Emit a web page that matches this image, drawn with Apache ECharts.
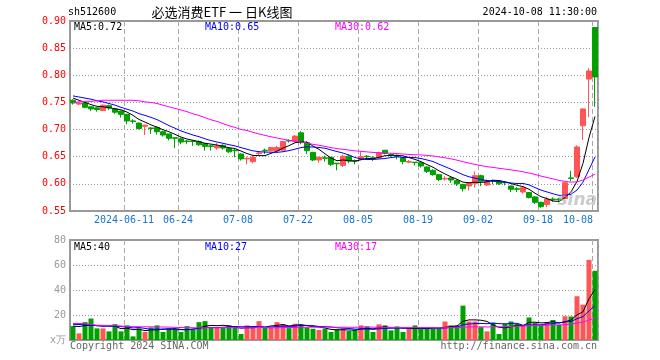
<!DOCTYPE html>
<html><head><meta charset="utf-8">
<script src="https://cdn.jsdelivr.net/npm/echarts@6/dist/echarts.min.js"></script>
<style>html,body{margin:0;padding:0;background:#fff}#c{width:660px;height:360px}</style>
</head><body><div id="c"></div>
<script>
// ---------- data ----------
const dates = [
'2024-05-28','2024-05-29','2024-05-30','2024-05-31',
'2024-06-03','2024-06-04','2024-06-05','2024-06-06','2024-06-07','2024-06-11','2024-06-12','2024-06-13','2024-06-14',
'2024-06-17','2024-06-18','2024-06-19','2024-06-20','2024-06-21','2024-06-24','2024-06-25','2024-06-26','2024-06-27','2024-06-28',
'2024-07-01','2024-07-02','2024-07-03','2024-07-04','2024-07-05','2024-07-08','2024-07-09','2024-07-10','2024-07-11','2024-07-12',
'2024-07-15','2024-07-16','2024-07-17','2024-07-18','2024-07-19','2024-07-22','2024-07-23','2024-07-24','2024-07-25','2024-07-26',
'2024-07-29','2024-07-30','2024-07-31','2024-08-01','2024-08-02','2024-08-05','2024-08-06','2024-08-07','2024-08-08','2024-08-09',
'2024-08-12','2024-08-13','2024-08-14','2024-08-15','2024-08-16','2024-08-19','2024-08-20','2024-08-21','2024-08-22','2024-08-23',
'2024-08-26','2024-08-27','2024-08-28','2024-08-29','2024-08-30','2024-09-02','2024-09-03','2024-09-04','2024-09-05','2024-09-06',
'2024-09-09','2024-09-10','2024-09-11','2024-09-12','2024-09-13','2024-09-18','2024-09-19','2024-09-20',
'2024-09-23','2024-09-24','2024-09-25','2024-09-26','2024-09-27','2024-09-30','2024-10-08'];

const opens = [0.754,0.747,0.749,0.742,0.740,0.735,0.744,0.738,0.734,0.728,
0.716,0.712,0.706,0.703,0.704,0.696,0.692,0.685,0.683,0.679,
0.679,0.678,0.674,0.670,0.666,0.671,0.665,0.662,0.655,0.646,
0.641,0.656,0.662,0.661,0.661,0.662,0.680,0.678,0.694,0.676,
0.658,0.644,0.648,0.649,0.638,0.634,0.651,0.643,0.645,0.651,
0.648,0.648,0.662,0.654,0.652,0.648,0.640,0.640,0.639,0.631,
0.625,0.617,0.609,0.611,0.606,0.599,0.596,0.601,0.615,0.598,
0.606,0.605,0.603,0.596,0.591,0.585,0.584,0.576,0.566,0.562,
0.572,0.572,0.573,0.611,0.613,0.707,0.793,0.888];
const closes = [0.749,0.749,0.741,0.738,0.737,0.745,0.740,0.732,0.728,0.716,
0.715,0.702,0.708,0.702,0.696,0.690,0.684,0.684,0.677,0.678,
0.678,0.672,0.669,0.669,0.670,0.666,0.659,0.661,0.646,0.647,
0.649,0.657,0.661,0.667,0.667,0.678,0.679,0.688,0.676,0.661,
0.644,0.649,0.647,0.636,0.637,0.651,0.642,0.642,0.650,0.650,
0.646,0.657,0.656,0.653,0.651,0.641,0.641,0.639,0.633,0.623,
0.617,0.608,0.610,0.607,0.600,0.591,0.602,0.615,0.605,0.606,
0.605,0.600,0.602,0.590,0.590,0.593,0.575,0.566,0.558,0.572,
0.571,0.571,0.602,0.610,0.668,0.738,0.808,0.797];
const lows = [0.746,0.745,0.739,0.734,0.733,0.734,0.736,0.729,0.722,0.710,
0.711,0.700,0.690,0.692,0.691,0.687,0.680,0.666,0.673,0.673,
0.670,0.670,0.661,0.661,0.663,0.663,0.657,0.649,0.643,0.636,
0.638,0.652,0.655,0.660,0.660,0.661,0.676,0.676,0.673,0.655,
0.642,0.639,0.641,0.633,0.625,0.631,0.638,0.636,0.644,0.644,
0.642,0.646,0.654,0.650,0.645,0.636,0.638,0.634,0.630,0.620,
0.615,0.605,0.606,0.602,0.596,0.586,0.588,0.593,0.596,0.596,
0.599,0.598,0.597,0.585,0.585,0.582,0.573,0.563,0.556,0.557,
0.567,0.568,0.572,0.605,0.611,0.681,0.723,0.742];
const highs = [0.756,0.750,0.750,0.742,0.741,0.746,0.746,0.740,0.735,0.729,
0.719,0.713,0.709,0.704,0.705,0.698,0.692,0.685,0.685,0.681,
0.680,0.680,0.674,0.672,0.675,0.673,0.668,0.664,0.656,0.650,
0.652,0.660,0.665,0.668,0.670,0.679,0.682,0.690,0.697,0.679,
0.659,0.650,0.652,0.649,0.638,0.654,0.654,0.645,0.660,0.653,
0.651,0.659,0.662,0.656,0.654,0.649,0.644,0.640,0.640,0.632,
0.627,0.617,0.614,0.613,0.608,0.600,0.603,0.623,0.617,0.608,
0.608,0.606,0.605,0.597,0.594,0.596,0.585,0.577,0.567,0.576,
0.575,0.574,0.603,0.624,0.671,0.739,0.813,0.889];
const volumes = [11.1,5.3,14.3,17.2,9.3,9.3,6.9,12.7,6.9,11.7,
2.9,9.3,6.4,10.1,11.7,6.4,9.3,8.2,6.4,11.1,
8.2,14.3,15.1,9.8,9.8,9.8,11.7,11.1,4.8,11.7,
9.8,15.1,9.8,9.8,14.3,12.7,9.5,13.0,12.0,10.0,
9.0,8.0,9.0,6.4,8.5,9.0,7.2,8.2,11.7,10.9,
6.4,12.5,11.7,7.7,10.9,6.4,9.0,11.7,9.0,9.0,
9.0,9.0,14.8,11.7,11.7,27.5,14.8,14.8,10.3,6.9,
13.8,4.8,13.0,14.8,13.0,11.7,18.0,13.8,12.0,14.0,
16.0,12.0,19.0,18.8,35.0,28.3,64.1,55.4];

// moving-average values at the left edge (their windows start before the visible data)
const ma5Head = [0.758,0.754,0.750,0.746];
const ma10Head = [0.762,0.760,0.758,0.756,0.753,0.751,0.748,0.745,0.741];
const ma30Head = [0.750,0.751,0.752,0.752,0.753,0.754,0.754,0.754,0.754,0.754,
0.754,0.753,0.751,0.750,0.748,0.745,0.742,0.739,0.736,0.733,
0.729,0.726,0.722,0.718,0.715,0.711,0.707,0.704,0.700];
const vma5Head = [11.1,10.8,11.5,12.0];
const vma10Head = [12.5,12.4,12.2,11.8,11.5,11.2,11.0,10.9,10.7];
const vma30Head = [13.2,13.2,13.1,12.5,11.8,11.7,11.6,11.5,11.2,10.8,
10.7,10.6,10.6,10.5,10.5,10.4,10.3,10.1,10.0,9.9,
9.8,9.8,9.8,9.8,9.8,9.8,9.9,9.9,9.7];

const axisDates = ['2024-06-11','2024-06-24','2024-07-08','2024-07-22','2024-08-05','2024-08-19','2024-09-02','2024-09-18','2024-10-08'];
const axisTexts = ['2024-06-11','06-24','07-08','07-22','08-05','08-19','09-02','09-18','10-08'];
const headerTexts = ['sh512600','必选消费ETF 一 日K线图','2024-10-08 11:30:00'];
const maLegend = ['MA5:0.72','MA10:0.65','MA30:0.62'];
const volLegend = ['MA5:40','MA10:27','MA30:17'];
const footerTexts = ['Copyright 2024 SINA.COM','http://finance.sina.com.cn'];

// ---------- build ----------
const RED = '#ff5555', GREEN = '#00a000';
const MONO = '"DejaVu Sans Mono", "Liberation Mono", monospace';
function movAvg(arr, n, head, dp) {
  return arr.map((_, i) => {
    if (i < n - 1) return head[i];
    let s = 0; for (let k = i - n + 1; k <= i; k++) s += arr[k];
    return +(s / n).toFixed(dp);
  });
}
const ma5 = movAvg(closes, 5, ma5Head, 4);
const ma10 = movAvg(closes, 10, ma10Head, 4);
const ma30 = movAvg(closes, 30, ma30Head, 4);
const vma5 = movAvg(volumes, 5, vma5Head, 2);
const vma10 = movAvg(volumes, 10, vma10Head, 2);
const vma30 = movAvg(volumes, 30, vma30Head, 2);
function isUp(i) {
  if (closes[i] !== opens[i]) return closes[i] > opens[i];
  return i > 0 ? closes[i] >= closes[i - 1] : true;
}
const candleData = opens.map((o, i) => [o, closes[i], lows[i], highs[i]]);
const volData = volumes.map((v, i) => ({ value: v, itemStyle: { color: isUp(i) ? RED : GREEN } }));
const labelIdx = axisDates.map(d => dates.indexOf(d));

const dashed = { color: '#aaa', width: 1, type: [5, 3] };
const dotted = { color: '#999', width: 1, type: [1, 2] };
const splitInterval = (index) => labelIdx.indexOf(index) >= 0;

function txt(text, x, y, color, font, align) {
  return { type: 'text', x: x, y: y, silent: true, z: 100,
    style: { text: text, fill: color, font: font, align: align || 'left', verticalAlign: 'middle',
             textAlign: align || 'left', textVerticalAlign: 'middle' } };
}

const option = {
  animation: false,
  backgroundColor: '#fff',
  grid: [
    { left: 70, right: 62, top: 21, height: 190, show: true, borderColor: '#999', borderWidth: 2, backgroundColor: 'transparent' },
    { left: 70, right: 62, top: 240, height: 100, show: true, borderColor: '#999', borderWidth: 2, backgroundColor: 'transparent' }
  ],
  xAxis: [
    { type: 'category', gridIndex: 0, data: dates, boundaryGap: true,
      axisLine: { show: false }, axisTick: { show: false },
      axisLabel: { show: true, interval: (i) => labelIdx.indexOf(i) >= 0, margin: 4,
        color: '#1874cd', fontFamily: MONO, fontSize: 10,
        formatter: function (value, index) {
          const k = labelIdx.indexOf(index);
          if (k < 0) return '';
          return (k === labelIdx.length - 1 ? '{b|' : '{a|') + axisTexts[k] + '}';
        },
        rich: { a: { padding: [0, 6, 0, 0], color: '#1874cd', fontFamily: MONO, fontSize: 10 },
                b: { padding: [0, 34, 0, 0], color: '#1874cd', fontFamily: MONO, fontSize: 10 } } },
      splitLine: { show: true, interval: splitInterval, lineStyle: dashed } },
    { type: 'category', gridIndex: 1, data: dates, boundaryGap: true,
      axisLine: { show: false }, axisTick: { show: false }, axisLabel: { show: false },
      splitLine: { show: true, interval: splitInterval, lineStyle: dashed } }
  ],
  yAxis: [
    { type: 'value', gridIndex: 0, min: 0.55, max: 0.90, interval: 0.05, scale: true,
      axisLine: { show: false }, axisTick: { show: false },
      axisLabel: { color: '#ff0000', fontFamily: MONO, fontSize: 10, margin: 4, formatter: v => v.toFixed(2) },
      splitLine: { show: true, lineStyle: dotted } },
    { type: 'value', gridIndex: 1, min: 0, max: 80, interval: 20,
      axisLine: { show: false }, axisTick: { show: false },
      axisLabel: { color: '#999', fontFamily: MONO, fontSize: 10, margin: 4,
        formatter: v => v === 0 ? 'x万' : String(v) },
      splitLine: { show: true, lineStyle: dotted } }
  ],
  series: [
    { type: 'candlestick', xAxisIndex: 0, yAxisIndex: 0, data: candleData, barWidth: 5,
      itemStyle: { color: RED, color0: GREEN, borderColor: RED, borderColor0: GREEN, borderWidth: 1 } },
    { type: 'line', xAxisIndex: 0, yAxisIndex: 0, data: ma5, symbol: 'none', lineStyle: { color: '#000', width: 1 } },
    { type: 'line', xAxisIndex: 0, yAxisIndex: 0, data: ma10, symbol: 'none', lineStyle: { color: '#0000ff', width: 1 } },
    { type: 'line', xAxisIndex: 0, yAxisIndex: 0, data: ma30, symbol: 'none', lineStyle: { color: '#ff00ff', width: 1 } },
    { type: 'bar', xAxisIndex: 1, yAxisIndex: 1, data: volData, barWidth: 5 },
    { type: 'line', xAxisIndex: 1, yAxisIndex: 1, data: vma5, symbol: 'none', lineStyle: { color: '#000', width: 1 } },
    { type: 'line', xAxisIndex: 1, yAxisIndex: 1, data: vma10, symbol: 'none', lineStyle: { color: '#0000ff', width: 1 } },
    { type: 'line', xAxisIndex: 1, yAxisIndex: 1, data: vma30, symbol: 'none', lineStyle: { color: '#ff00ff', width: 1 } }
  ],
  graphic: [
    txt(headerTexts[0], 68, 12, '#000', '10px ' + MONO),
    txt(headerTexts[1], 222, 12, '#000', '13px "Noto Sans CJK SC", sans-serif', 'center'),
    txt(headerTexts[2], 597, 12, '#000', '10px ' + MONO, 'right'),
    txt(maLegend[0], 74, 27, '#000', '10px ' + MONO),
    txt(maLegend[1], 205, 27, '#0000ff', '10px ' + MONO),
    txt(maLegend[2], 335, 27, '#ff00ff', '10px ' + MONO),
    txt(volLegend[0], 74, 247, '#000', '10px ' + MONO),
    txt(volLegend[1], 205, 247, '#0000ff', '10px ' + MONO),
    txt(volLegend[2], 335, 247, '#ff00ff', '10px ' + MONO),
    txt(footerTexts[0], 70, 346, '#666', '10px ' + MONO),
    txt(footerTexts[1], 597, 346, '#666', '10px ' + MONO, 'right'),
    txt('sina', 597, 201, 'rgba(170,170,170,0.6)', 'italic bold 17px "DejaVu Sans", sans-serif', 'right')
  ]
};
const chart = echarts.init(document.getElementById('c'));
chart.setOption(option);
</script>
</body></html>
